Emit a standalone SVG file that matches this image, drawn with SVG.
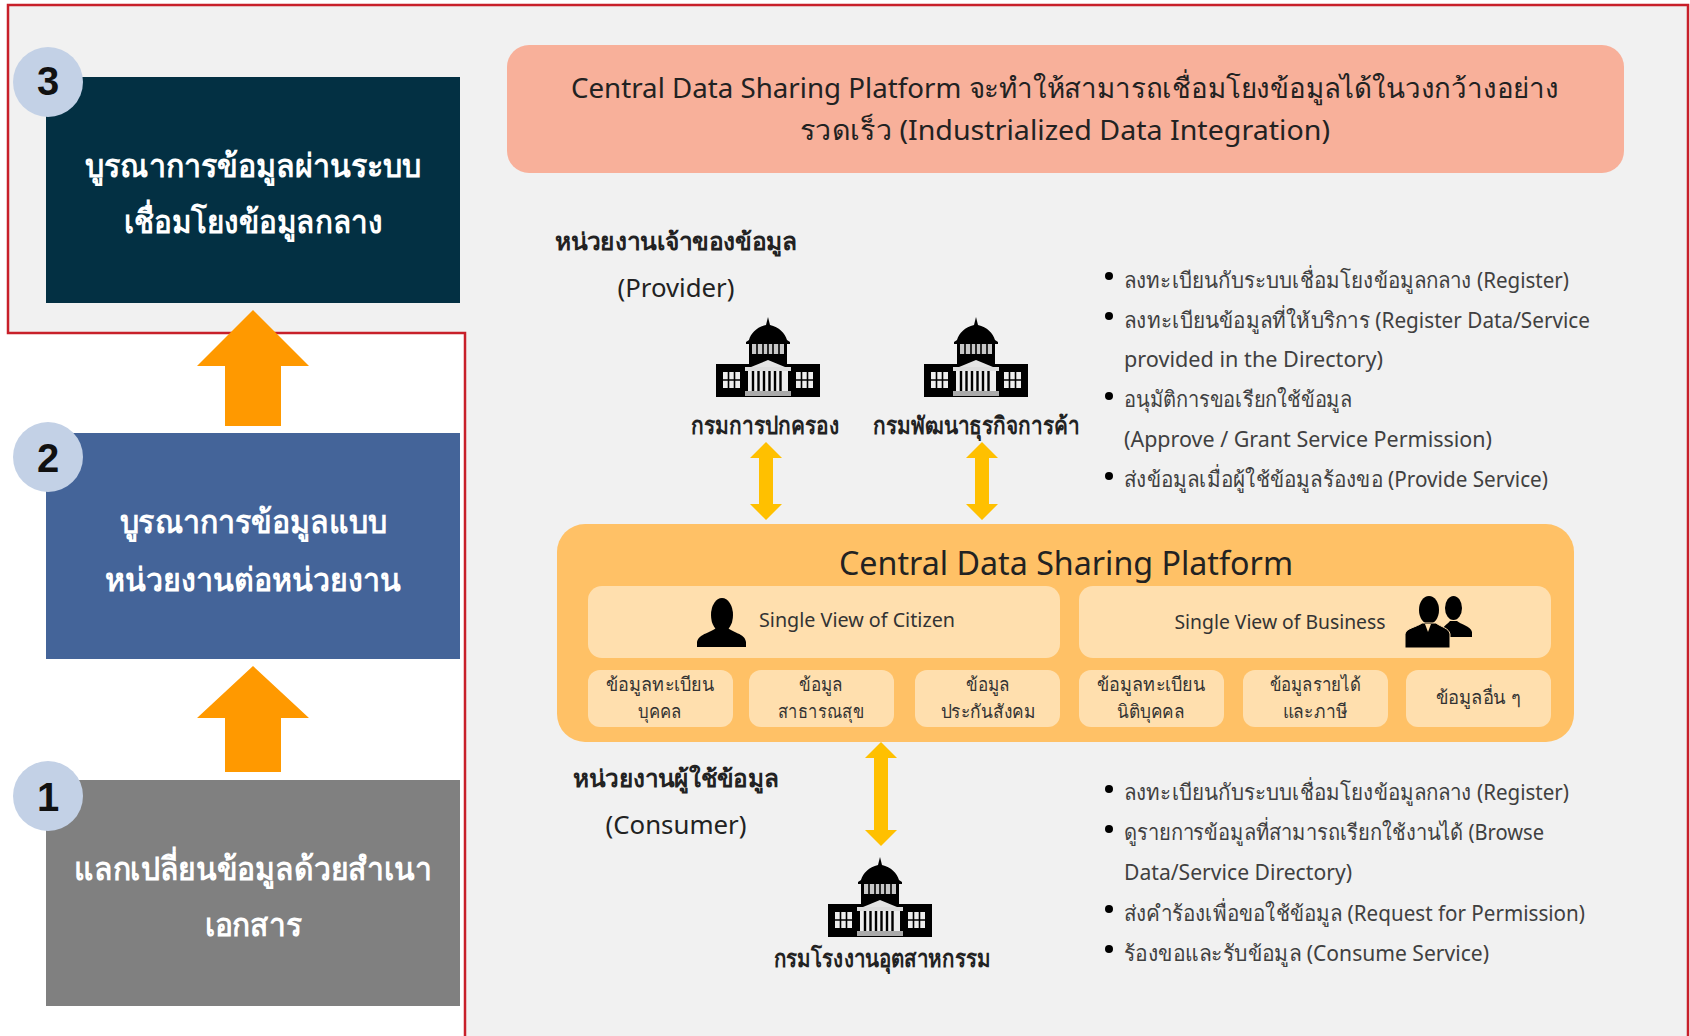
<svg xmlns="http://www.w3.org/2000/svg" width="1690" height="1036" viewBox="0 0 1690 1036">
<defs>
<style>
text{text-anchor:middle;font-family:"Noto Sans","DejaVu Sans",sans-serif}
.h{fill:#fff;font-size:32px;font-weight:600}
.n{font-size:40px;font-weight:700;font-family:"Liberation Sans",sans-serif;fill:#111}
.b{font-size:24px;fill:#222;font-weight:600}
.l{font-size:22px;fill:#404040;text-anchor:start}
.c{font-size:19px;fill:#333}
</style>
<g id="bld">
<path d="M52 0l2 8c9 2 15 8 17 15l3 2v2H30v-2l3-2c2-7 8-13 17-15z" fill="#000"/>
<rect x="33" y="25" width="38" height="25" fill="#000"/>
<rect x="36" y="27" width="32" height="10" fill="#c8c8c8"/>
<path d="M41 27v10M47 27v10M52 27v10M57 27v10M63 27v10" stroke="#000" stroke-width="1.6"/>
<rect x="0" y="47" width="104" height="33" fill="#000"/>
<path d="M35 50l17-7 17 7z" fill="#e4e4e4"/>
<rect x="29" y="50" width="46" height="4" fill="#ddd"/>
<rect x="32" y="54" width="40" height="20" fill="#eee"/>
<path d="M37 54v20M42.500 54v20M48 54v20M53.500 54v20M59 54v20M64.500 54v20" stroke="#000" stroke-width="2.400"/>
<rect x="29" y="74" width="46" height="5" fill="#aaa"/>
<path d="M7 55h17v16H7zM80 55h17v16H80z" fill="#eee"/>
<path d="M12.500 55v16M18.500 55v16M7 63h17M85.500 55v16M91.500 55v16M80 63h17" stroke="#000" stroke-width="1.600"/>
</g>
</defs>
<rect width="1690" height="1036" fill="#fff"/>
<path id="frame" d="M8 5H1688V1042H465V333H8Z" fill="#f1f1f1" stroke="#c8202a" stroke-width="2.500"/>
<g id="connectors">
<path d="M253 310l56 56h-28v60h-56v-60h-28z" fill="#ff9900"/>
<path d="M253 666l56 52h-28v54h-56v-54h-28z" fill="#ff9900"/>
<path d="M766 442l16 16h-9v46h9l-16 16-16-16h9v-46h-9z" fill="#ffc000"/>
<path d="M982 442l16 16h-9v46h9l-16 16-16-16h9v-46h-9z" fill="#ffc000"/>
<path d="M881 742l16 16h-9v72h9l-16 16-16-16h9v-72h-9z" fill="#ffc000"/>
</g>
<g id="step3">
<rect x="46" y="77" width="414" height="226" fill="#033043"/>
<text class="h" x="253" y="177" textLength="336" lengthAdjust="spacingAndGlyphs">บูรณาการข้อมูลผ่านระบบ</text>
<text class="h" x="253" y="233" textLength="259" lengthAdjust="spacingAndGlyphs">เชื่อมโยงข้อมูลกลาง</text>
<circle cx="48" cy="82" r="35" fill="#c3d1e6"/><text class="n" x="48" y="95">3</text>
</g>
<g id="step2">
<rect x="46" y="433" width="414" height="226" fill="#446499"/>
<text class="h" x="253" y="533" textLength="267" lengthAdjust="spacingAndGlyphs">บูรณาการข้อมูลแบบ</text>
<text class="h" x="253" y="591" textLength="296" lengthAdjust="spacingAndGlyphs">หน่วยงานต่อหน่วยงาน</text>
<circle cx="48" cy="457" r="35" fill="#c3d1e6"/><text class="n" x="48" y="472">2</text>
</g>
<g id="step1">
<rect x="46" y="780" width="414" height="226" fill="#808080"/>
<text class="h" x="253" y="880" textLength="358" lengthAdjust="spacingAndGlyphs">แลกเปลี่ยนข้อมูลด้วยสำเนา</text>
<text class="h" x="253" y="936" textLength="97" lengthAdjust="spacingAndGlyphs">เอกสาร</text>
<circle cx="48" cy="796" r="35" fill="#c3d1e6"/><text class="n" x="48" y="811">1</text>
</g>
<g id="banner">
<rect x="507" y="45" width="1117" height="128" rx="22" fill="#f8b09a"/>
<text x="1065" y="98" font-size="28" fill="#222" textLength="988" lengthAdjust="spacingAndGlyphs">Central Data Sharing Platform จะทำให้สามารถเชื่อมโยงข้อมูลได้ในวงกว้างอย่าง</text>
<text x="1065" y="140" font-size="28" fill="#222" textLength="530" lengthAdjust="spacingAndGlyphs">รวดเร็ว (Industrialized Data Integration)</text>
</g>
<g id="provider">
<text class="b" x="676" y="250" textLength="243" lengthAdjust="spacingAndGlyphs">หน่วยงานเจ้าของข้อมูล</text>
<text x="676" y="297" font-size="25" fill="#222" textLength="117" lengthAdjust="spacingAndGlyphs">(Provider)</text>
</g>
<g id="dopa"><use href="#bld" x="716" y="317"/><text class="b" x="765" y="434" textLength="148" lengthAdjust="spacingAndGlyphs">กรมการปกครอง</text></g>
<g id="dbd"><use href="#bld" x="924" y="317"/><text class="b" x="976" y="434" textLength="206" lengthAdjust="spacingAndGlyphs">กรมพัฒนาธุรกิจการค้า</text></g>
<g id="provider-list">
<g fill="#000"><circle cx="1109" cy="276" r="4"/><circle cx="1109" cy="316" r="4"/><circle cx="1109" cy="396" r="4"/><circle cx="1109" cy="476" r="4"/></g>
<text class="l" x="1124" y="288" textLength="445" lengthAdjust="spacingAndGlyphs">ลงทะเบียนกับระบบเชื่อมโยงข้อมูลกลาง (Register)</text>
<text class="l" x="1124" y="328" textLength="466" lengthAdjust="spacingAndGlyphs">ลงทะเบียนข้อมูลที่ให้บริการ (Register Data/Service</text>
<text class="l" x="1124" y="367" textLength="259" lengthAdjust="spacingAndGlyphs">provided in the Directory)</text>
<text class="l" x="1124" y="407" textLength="228" lengthAdjust="spacingAndGlyphs">อนุมัติการขอเรียกใช้ข้อมูล</text>
<text class="l" x="1124" y="447" textLength="368" lengthAdjust="spacingAndGlyphs">(Approve / Grant Service Permission)</text>
<text class="l" x="1124" y="487" textLength="424" lengthAdjust="spacingAndGlyphs">ส่งข้อมูลเมื่อผู้ใช้ข้อมูลร้องขอ (Provide Service)</text>
</g>
<g id="platform">
<rect x="557" y="524" width="1017" height="218" rx="28" fill="#ffc166"/>
<text x="1066" y="575" font-size="32" fill="#222" textLength="454" lengthAdjust="spacingAndGlyphs">Central Data Sharing Platform</text>
<g fill="#ffdfae">
<rect x="588" y="586" width="472" height="72" rx="14"/><rect x="1079" y="586" width="472" height="72" rx="14"/>
<rect x="588" y="670" width="145" height="57" rx="12"/><rect x="749" y="670" width="145" height="57" rx="12"/><rect x="915" y="670" width="145" height="57" rx="12"/>
<rect x="1079" y="670" width="145" height="57" rx="12"/><rect x="1243" y="670" width="145" height="57" rx="12"/><rect x="1406" y="670" width="145" height="57" rx="12"/>
</g>
<ellipse cx="722" cy="615" rx="11" ry="17" fill="#000"/>
<path d="M697 647v-5c2-9 15-9 20-15h10c5 6 18 6 19 15v5z" fill="#000"/>
<ellipse cx="1453.500" cy="608" rx="8.500" ry="12" fill="#000"/>
<path d="M1442 637v-5c0-6 6-8 8-11h7c3 3 14 5 15 11v5z" fill="#000"/>
<ellipse cx="1429" cy="610" rx="10" ry="14" fill="#000"/>
<path d="M1405 648v-14c1-6 12-7 17-11h14c5 4 13 5 14 11v14z" fill="#000" stroke="#ffdfae" stroke-width="1"/>
<path d="M1425 624l3 8 3-8z" fill="#ffdfae"/>
<text x="857" y="627" font-size="20" fill="#333" textLength="196" lengthAdjust="spacingAndGlyphs">Single View of Citizen</text>
<text x="1280" y="629" font-size="20" fill="#333" textLength="211" lengthAdjust="spacingAndGlyphs">Single View of Business</text>
<text class="c" x="660" y="691" textLength="108" lengthAdjust="spacingAndGlyphs">ข้อมูลทะเบียน</text><text class="c" x="660" y="718" textLength="44" lengthAdjust="spacingAndGlyphs">บุคคล</text>
<text class="c" x="821" y="691" textLength="44" lengthAdjust="spacingAndGlyphs">ข้อมูล</text><text class="c" x="821" y="718" textLength="86" lengthAdjust="spacingAndGlyphs">สาธารณสุข</text>
<text class="c" x="988" y="691" textLength="44" lengthAdjust="spacingAndGlyphs">ข้อมูล</text><text class="c" x="988" y="718" textLength="95" lengthAdjust="spacingAndGlyphs">ประกันสังคม</text>
<text class="c" x="1151" y="691" textLength="108" lengthAdjust="spacingAndGlyphs">ข้อมูลทะเบียน</text><text class="c" x="1151" y="718" textLength="68" lengthAdjust="spacingAndGlyphs">นิติบุคคล</text>
<text class="c" x="1315" y="691" textLength="91" lengthAdjust="spacingAndGlyphs">ข้อมูลรายได้</text><text class="c" x="1315" y="718" textLength="65" lengthAdjust="spacingAndGlyphs">และภาษี</text>
<text class="c" x="1478" y="704" textLength="85" lengthAdjust="spacingAndGlyphs">ข้อมูลอื่น ๆ</text>
</g>
<g id="consumer">
<text class="b" x="676" y="787" textLength="206" lengthAdjust="spacingAndGlyphs">หน่วยงานผู้ใช้ข้อมูล</text>
<text x="676" y="834" font-size="25" fill="#222" textLength="141" lengthAdjust="spacingAndGlyphs">(Consumer)</text>
</g>
<g id="diw"><use href="#bld" x="828" y="857"/><text class="b" x="882" y="967" textLength="217" lengthAdjust="spacingAndGlyphs">กรมโรงงานอุตสาหกรรม</text></g>
<g id="consumer-list">
<g fill="#000"><circle cx="1109" cy="789" r="4"/><circle cx="1109" cy="829" r="4"/><circle cx="1109" cy="909" r="4"/><circle cx="1109" cy="949" r="4"/></g>
<text class="l" x="1124" y="800" textLength="445" lengthAdjust="spacingAndGlyphs">ลงทะเบียนกับระบบเชื่อมโยงข้อมูลกลาง (Register)</text>
<text class="l" x="1124" y="840" textLength="420" lengthAdjust="spacingAndGlyphs">ดูรายการข้อมูลที่สามารถเรียกใช้งานได้ (Browse</text>
<text class="l" x="1124" y="880" textLength="228" lengthAdjust="spacingAndGlyphs">Data/Service Directory)</text>
<text class="l" x="1124" y="921" textLength="461" lengthAdjust="spacingAndGlyphs">ส่งคำร้องเพื่อขอใช้ข้อมูล (Request for Permission)</text>
<text class="l" x="1124" y="961" textLength="365" lengthAdjust="spacingAndGlyphs">ร้องขอและรับข้อมูล (Consume Service)</text>
</g>
</svg>
